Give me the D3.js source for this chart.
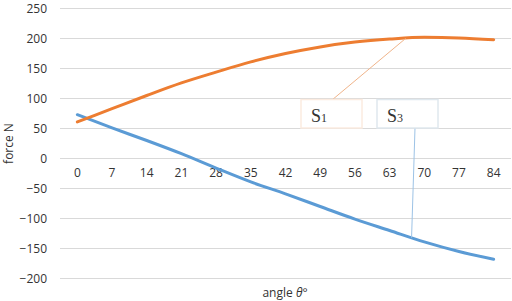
<!DOCTYPE html>
<html>
<head>
<meta charset="utf-8">
<script src="https://cdnjs.cloudflare.com/ajax/libs/d3/7.8.5/d3.min.js"></script>
<style>
  body { margin: 0; background: #fff; }
  svg text { font-family: "Open Sans", "Liberation Sans", sans-serif; fill: #333; }
</style>
</head>
<body>
<div id="chart"></div>
<script>
// data
var angles = [0, 7, 14, 21, 28, 35, 42, 49, 56, 63, 70, 77, 84];
var s1 = [61, 83, 105, 126, 144, 161, 175, 186, 194, 199, 202, 201, 198];
var s3 = [73, 51, 30, 8, -16, -39, -59, -80, -101, -120, -139, -155, -168];
var yTicks = [-200, -150, -100, -50, 0, 50, 100, 150, 200, 250];

var width = 512, height = 301;

var svg = d3.select("#chart").append("svg")
    .attr("width", width)
    .attr("height", height);

// Scales
var x = d3.scaleBand()
    .domain(angles)
    .range([60, 511]);

var y = d3.scaleLinear()
    .domain([-200, 250])
    .range([278.5, 8.5]);

// Gridlines
svg.append("g")
  .selectAll("line")
  .data(yTicks)
  .enter().append("line")
    .attr("x1", 60)
    .attr("x2", 511)
    .attr("y1", function(d) { return y(d); })
    .attr("y2", function(d) { return y(d); })
    .attr("stroke", "#d9d9d9")
    .attr("stroke-width", 1);

// Y axis labels
var yAxis = d3.axisLeft(y).tickValues(yTicks).tickSize(0).tickPadding(0);
svg.append("g")
    .attr("transform", "translate(47,0)")
    .call(yAxis)
    .call(function(g) { g.select(".domain").remove(); })
    .selectAll("text")
      .attr("font-size", 12)
      .attr("fill", "#333")
      .style("font-family", "'Open Sans', sans-serif");

// X axis labels (sit at the zero line)
var xAxis = d3.axisBottom(x).tickSize(0).tickPadding(10);
svg.append("g")
    .attr("transform", "translate(0," + y(0) + ")")
    .call(xAxis)
    .call(function(g) { g.select(".domain").remove(); })
    .selectAll("text")
      .attr("font-size", 12)
      .attr("fill", "#333")
      .style("font-family", "'Open Sans', sans-serif");

// Axis titles
svg.append("text")
    .attr("text-anchor", "middle")
    .attr("font-size", 12)
    .attr("transform", "translate(13," + y(25) + ")rotate(-90)")
    .text("force N");

svg.append("text")
    .attr("text-anchor", "middle")
    .attr("font-size", 12)
    .attr("x", 285)
    .attr("y", 297)
    .html("angle <tspan font-style='italic'>θ</tspan>°");

// Lines
var line = d3.line()
    .x(function(d, i) { return x(angles[i]) + x.bandwidth() / 2; })
    .y(function(d) { return y(d); })
    .curve(d3.curveMonotoneX);

svg.append("path")
    .attr("d", line(s3))
    .attr("fill", "none")
    .attr("stroke", "#5b9bd5")
    .attr("stroke-width", 3)
    .attr("stroke-linecap", "round");

svg.append("path")
    .attr("d", line(s1))
    .attr("fill", "none")
    .attr("stroke", "#ed7d31")
    .attr("stroke-width", 3)
    .attr("stroke-linecap", "round");

// Annotation callouts
var px = function(a) { return x(a) + x.bandwidth() / 2; };

// S1 leader: from box to orange line near 66 deg
svg.append("line")
    .attr("x1", 332).attr("y1", 100)
    .attr("x2", px(63) + 16).attr("y2", y(200))
    .attr("stroke", "#f0b48a")
    .attr("stroke-width", 1);

// S3 leader: from box down to blue line near 67 deg
svg.append("line")
    .attr("x1", 415).attr("y1", 128)
    .attr("x2", px(63) + 22).attr("y2", y(-132))
    .attr("stroke", "#9dc3e6")
    .attr("stroke-width", 1);

var boxes = [
  {x: 301, label: "1", stroke: "#fbebe0"},
  {x: 377, label: "3", stroke: "#dfe8ee"}
];

boxes.forEach(function(b) {
  svg.append("rect")
      .attr("x", b.x).attr("y", 99.5)
      .attr("width", 61).attr("height", 28.5)
      .attr("fill", "#fff")
      .attr("stroke", b.stroke)
      .attr("stroke-width", 1.5);
  var t = svg.append("text")
      .attr("x", b.x + 10)
      .attr("y", 122)
      .attr("font-size", 18)
      .style("font-family", "'Liberation Serif', 'DejaVu Serif', serif")
      .attr("fill", "#222");
  t.append("tspan").text("S");
  t.append("tspan").attr("font-size", 12).text(b.label);
});
</script>
</body>
</html>
